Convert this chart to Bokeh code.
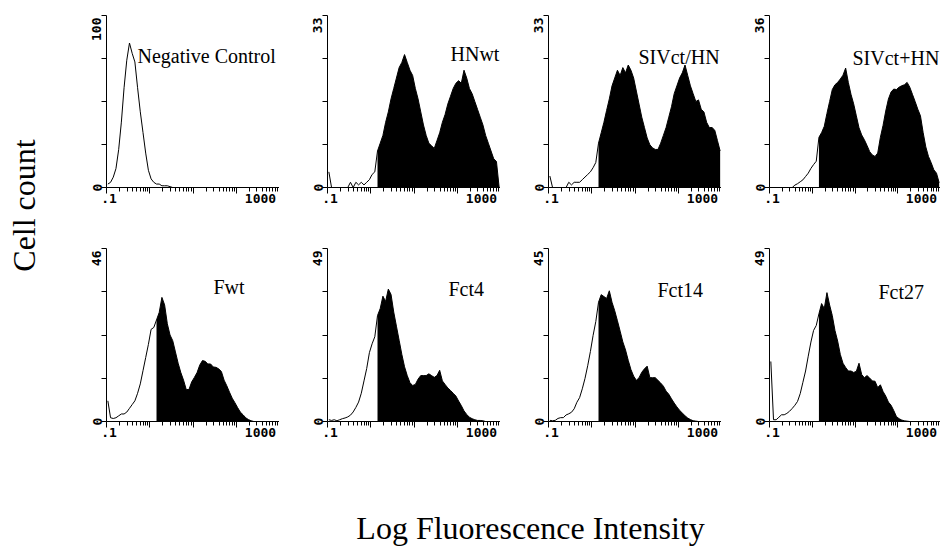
import math
import numpy as np
from bokeh.plotting import figure
from bokeh.models import (Range1d, FixedTicker, CustomJSTickFormatter, Label,
                          LinearAxis, LogAxis)
from bokeh.layouts import row, column
from bokeh.embed import file_html
from bokeh.resources import INLINE

# ---------------- data ----------------
panel_names = ["Negative Control", "HNwt", "SIVct/HN", "SIVct+HN",
               "Fwt", "Fct4", "Fct14", "Fct27"]
y_max = [100, 33, 33, 36, 46, 49, 45, 49]
gated = [False, True, True, True, True, True, True, True]
gate_value = 1.4                      # fluorescence gate (start of black fill)
x_min, x_max = 0.1, 1000              # log axis range (4 decades)
channels_per_decade = 16
x_tick_labels = [".1", "1000"]
y_axis_title = "Cell count"
x_axis_title = "Log Fluorescence Intensity"

# counts per channel (16 channels per decade, 0.1 .. 1000)
neg_control = [2, 3, 6, 11, 22, 38, 58, 74, 84, 78, 73, 58, 44, 32, 20, 10,
               5, 3, 2, 2, 1, 1, 1, 0.5, 0, 0, 0, 0, 0, 0, 0, 0,
               0, 0, 0, 0, 0, 0, 0, 0, 0, 0, 0, 0, 0, 0, 0, 0,
               0, 0, 0, 0, 0, 0, 0, 0, 0, 0, 0, 0, 0, 0, 0, 0]
hn_wt = [3, 0, 0, 0, 0, 0, 0, 0, 1, 0, 1, 0.5, 1, 0.5, 1, 1.5,
         2.5, 3, 7, 8.5, 10, 12.5, 14.5, 17, 19, 21, 23, 24, 25.5, 24, 22.5, 21.5,
         19, 17, 14.5, 12, 10, 8.5, 8, 7.5, 9, 10.5, 12.5, 14, 16, 17.5, 19, 20,
         20.5, 20, 22.5, 21, 19, 18, 16.5, 15, 13.5, 12, 10, 8.5, 7, 5.5, 5, 0]
siv_ct_hn = [2.2, 0, 0, 0, 0, 0, 0, 1, 0.5, 1, 1, 1, 1.5, 2, 2.5, 3,
             3.8, 4.8, 8.5, 10.5, 12.5, 14.8, 17, 19.5, 21, 22.5, 21.5, 23, 22, 23.5, 22.5, 21,
             18.5, 16, 13.5, 11.5, 9.5, 8.2, 7.6, 7.3, 7.3, 8.5, 10, 11.5, 13.5, 15.5, 18, 19.5,
             21, 22, 23.5, 21.5, 19.5, 18, 16.5, 16.8, 15, 14.5, 12.5, 11.5, 11.5, 11, 9, 7]
siv_ct_plus_hn = [0, 0, 0, 0, 0, 0, 0, 0, 0, 0.5, 0.8, 1.2, 1.6, 2.3, 3, 4,
                  4.8, 5.5, 10.5, 11.5, 12.8, 15.5, 18, 20.5, 21.5, 22, 22.7, 23.5, 25, 22, 19.5, 17.5,
                  15, 12.5, 11, 10, 8.8, 7.5, 6.8, 6.5, 7.2, 10.5, 13, 16, 18.5, 20, 20.6, 20.5,
                  21, 21.3, 21.5, 22, 21, 19.5, 18, 16.4, 15, 11.5, 8.5, 6.5, 5.2, 3.7, 3, 1]
f_wt = [5.5, 1, 0.8, 1, 1.5, 2, 2, 2.5, 3.5, 4.5, 5.5, 7.5, 10, 13.5, 17, 20.5,
        24.5, 25, 27, 29, 33, 31, 26, 23, 21.5, 18.5, 15.5, 13, 11, 8.5, 8.5, 10.5,
        11.7, 13, 15, 16.2, 16, 15.3, 15.3, 14.5, 14.4, 14, 13.3, 11, 9.5, 7.8, 6.2, 5,
        3.7, 2.5, 1.8, 1, 0.5, 0.2, 0, 0, 0, 0, 0, 0, 0, 0, 0, 0]
f_ct4 = [0.5, 0.3, 0.5, 0.2, 0.5, 0.8, 1, 1.3, 1.8, 2.7, 4, 5.5, 8, 11.5, 15, 19.5,
         22, 24, 30, 32, 35.5, 34, 37.5, 36, 31, 27, 23, 19, 15.5, 13, 11, 10.2,
         10.5, 12, 13, 13, 13, 13.5, 13, 12.5, 13, 14.5, 11.5, 10.5, 9.5, 8.8, 8, 7.2,
         5.8, 4.5, 3, 2, 1.2, 0.8, 0.5, 0.3, 0.3, 0.2, 0, 0, 0, 0, 0, 0]
f_ct14 = [0.3, 0.2, 0.3, 0.8, 1, 1, 1.7, 2, 2.4, 3.3, 5, 6.2, 8.5, 11.2, 14.5, 18.2,
          22.4, 26, 31, 33, 32.5, 32, 34, 31, 28.8, 26.2, 23.5, 20.7, 18.6, 15.9, 13.5, 11.8,
          10.7, 11.4, 12.8, 13.7, 14.4, 11.4, 11.4, 11.4, 10.7, 10, 9.2, 7.9, 7.1, 5.9, 4.8, 3.8,
          2.9, 2.2, 1.5, 0.9, 0.5, 0.2, 0.1, 0, 0, 0, 0, 0, 0, 0, 0, 0]
f_ct27 = [17, 0.5, 0.5, 1.2, 1.9, 1.9, 2.3, 2.9, 3.7, 4.6, 5.7, 7.9, 11.1, 14.3, 18.5, 22.5,
          25.8, 27.2, 30.5, 33.4, 32, 36.5, 33, 30, 25.8, 22.8, 19, 16.5, 15.3, 14.3, 14.3, 13.9,
          14.2, 16.5, 13.3, 12.4, 13, 12.3, 11.5, 11.4, 9.6, 10.4, 8.5, 7.2, 5.5, 4.6, 3.1, 1.4,
          0.8, 0.4, 0.2, 0.1, 0, 0, 0, 0, 0, 0, 0, 0, 0, 0, 0, 0]
panel_counts = [neg_control, hn_wt, siv_ct_hn, siv_ct_plus_hn,
                f_wt, f_ct4, f_ct14, f_ct27]

# ---------------- layout / style (pixels) ----------------
total_w, total_h = 940, 546
left_w = 58
left_border = 48
col_frame_w = [173, 173, 173, 171]
row_h = [241, 212]
row_top = [15, 7]
row_frame_h = [172, 173]
title_px = 20
title_dx = [31, 123, 90, 83, 107, 121, 109, 109]   # px from frame left
title_dy = [47, 45, 48, 49, 45, 47, 48, 50]        # px from frame top to baseline
SERIF = "Liberation Serif"
MONO = "DejaVu Sans Mono"
tick_font_px = 13
char_w = 0.602 * tick_font_px
mid_above_base = 0.34                               # em: text middle above baseline

n_ch = len(neg_control)
log_lo = math.log10(x_min)
n_dec = math.log10(x_max) - log_lo
centers = np.array([10 ** (log_lo + (k + 0.5) / channels_per_decade) for k in range(n_ch)])
major_ticks = [10.0 ** d for d in range(-1, 4)]
minor_ticks = [m * 10.0 ** d for d in range(-1, 3) for m in range(2, 10)]


def px_to_x(px, fw):
    return 10 ** (log_lo + px / fw * n_dec)


def style_label_axis(a):
    a.axis_line_color = None
    a.major_tick_line_color = None
    a.minor_tick_line_color = None
    a.major_tick_out = 0
    a.major_tick_in = 0
    a.minor_tick_out = 0
    a.minor_tick_in = 0
    a.major_label_standoff = 0
    a.major_label_text_font = MONO
    a.major_label_text_font_size = f"{tick_font_px}px"
    a.major_label_text_font_style = "bold"
    a.major_label_text_color = "black"


def make_panel(i):
    r, c = divmod(i, 4)
    m = y_max[i]
    fw, fh = col_frame_w[c], row_frame_h[r]
    top = row_top[r]
    bottom = row_h[r] - top - fh
    p = figure(frame_width=fw, frame_height=fh, title=None,
               x_axis_type="log", x_range=Range1d(x_min, x_max),
               y_range=Range1d(0, m), output_backend="svg",
               toolbar_location=None, min_border_left=left_border,
               min_border_right=0, min_border_top=top, min_border_bottom=bottom)
    p.grid.visible = False
    p.outline_line_color = None
    p.background_fill_color = "white"
    p.border_fill_color = "white"

    xa = p.xaxis[0]
    xa.ticker = FixedTicker(ticks=major_ticks, minor_ticks=minor_ticks)
    xa.major_tick_out = 6
    xa.minor_tick_out = 4
    ya = p.yaxis[0]
    ya.ticker = FixedTicker(ticks=[0, m / 4, m / 2, 3 * m / 4, m], minor_ticks=[])
    ya.major_tick_out = 5
    for a in (xa, ya):
        a.formatter = CustomJSTickFormatter(code="return ''")
        a.major_label_text_font_size = "1px"
        a.major_label_standoff = 0
        a.major_tick_in = 0
        a.minor_tick_in = 0
        a.axis_line_color = "black"
        a.major_tick_line_color = "black"
        a.minor_tick_line_color = "black"
    ya.minor_tick_line_color = None

    # tick-label axes (labels only, placed like the reference)
    lx = LogAxis(ticker=FixedTicker(ticks=[px_to_x(2.5, fw), px_to_x(fw - 19, fw)],
                                    minor_ticks=[]),
                 formatter=CustomJSTickFormatter(args=dict(labels=x_tick_labels),
                                                 code="return labels[index]"))
    style_label_axis(lx)
    p.add_layout(lx, "below")

    top_lab = str(m)
    shift = (len(top_lab) * char_w / 2 + 2) / fh * m
    ly = LinearAxis(ticker=FixedTicker(ticks=[0, m - shift], minor_ticks=[]),
                    formatter=CustomJSTickFormatter(args=dict(labels=["0", top_lab]),
                                                    code="return labels[index]"),
                    major_label_orientation="vertical")
    style_label_axis(ly)
    p.add_layout(ly, "left")

    counts = np.array(panel_counts[i], dtype=float)
    if gated[i]:
        mask = centers >= gate_value
        p.varea(x=centers[mask], y1=0, y2=counts[mask],
                fill_color="black", fill_alpha=1)
    p.line(centers, counts, line_color="black", line_width=1)

    dy_mid = title_dy[i] - mid_above_base * title_px
    p.add_layout(Label(x=px_to_x(title_dx[i], fw), y=m * (1 - dy_mid / fh),
                       text=panel_names[i], text_font=SERIF,
                       text_font_size=f"{title_px}px",
                       text_color="black", text_align="left",
                       text_baseline="middle"))
    return p


panels = [make_panel(i) for i in range(8)]

grid_h = row_h[0] + row_h[1]
bottom_h = total_h - grid_h


def blank(w, h):
    f = figure(width=w, height=h, title=None, x_range=Range1d(0, w), y_range=Range1d(0, h),
               output_backend="svg", toolbar_location=None,
               x_axis_location=None, y_axis_location=None, min_border=0)
    f.grid.visible = False
    f.outline_line_color = None
    return f


left_fig = blank(left_w, grid_h)
left_fig.add_layout(Label(x=23, y=grid_h - 205, text=y_axis_title, angle=math.pi / 2,
                          text_font=SERIF, text_font_size="32px", text_color="black",
                          text_align="center", text_baseline="middle"))
bottom_fig = blank(total_w, bottom_h)
bottom_fig.add_layout(Label(x=530, y=total_h - 527 , text=x_axis_title,
                            text_font=SERIF, text_font_size="32px", text_color="black",
                            text_align="center", text_baseline="middle"))

layout = column(
    row(left_fig, column(row(*panels[:4]), row(*panels[4:]))),
    bottom_fig,
)

open("out.html", "w").write(file_html(layout, INLINE))
